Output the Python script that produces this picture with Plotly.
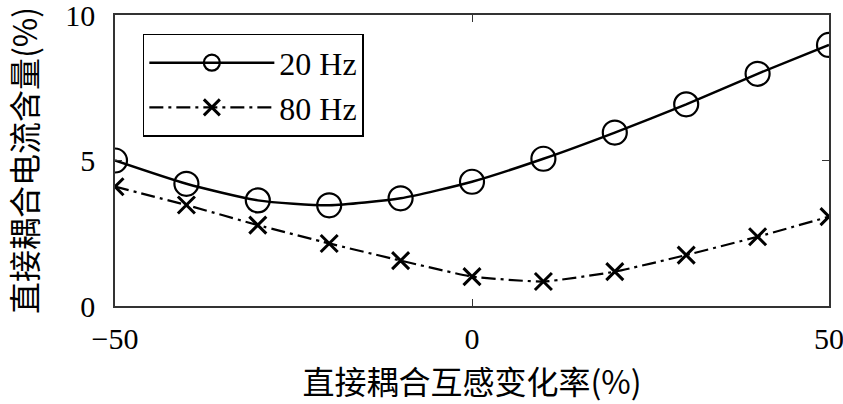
import plotly.graph_objects as go

x_vals = [-50, -40, -30, -20, -10, 0, 10, 20, 30, 40, 50]
y_20hz = [5.0, 4.2, 3.63, 3.46, 3.7, 4.27, 5.06, 5.96, 6.93, 7.98, 8.97]
y_80hz = [4.1, 3.47, 2.78, 2.15, 1.56, 1.01, 0.84, 1.18, 1.75, 2.38, 3.07]
series_names = ["20 Hz", "80 Hz"]
x_ticks = [-50, 0, 50]
y_ticks = [0, 5, 10]
x_title = "直接耦合互感变化率(%)"
y_title = "直接耦合电流含量(%)"

CJK = "Noto Sans CJK SC"
SERIF = "Liberation Serif"

fig = go.Figure()
fig.add_trace(go.Scatter(
    x=x_vals, y=y_20hz, name=series_names[0], mode="lines+markers",
    line=dict(color="black", width=2.5, shape="spline", smoothing=0.6),
    marker=dict(symbol="circle-open", size=24, color="black", line=dict(width=2.2, color="black")),
))
fig.add_trace(go.Scatter(
    x=x_vals, y=y_80hz, name=series_names[1], mode="lines+markers",
    line=dict(color="black", width=2.2, dash="14px,5px,3px,5px", shape="spline", smoothing=0.4),
    marker=dict(symbol="x-thin-open", size=17, color="black", line=dict(width=3, color="black")),
))

axis_common = dict(
    showgrid=False, zeroline=False, showline=True, linecolor="#333333", linewidth=1.5,
    mirror="ticks", ticks="inside", ticklen=7, tickwidth=1.2, tickcolor="#333333",
    tickfont=dict(family=SERIF, size=30, color="black"),
    ticklabeloverflow="allow", automargin=False,
)
fig.update_xaxes(range=[-50, 50], tickvals=x_ticks, ticklabelstandoff=5, **axis_common,
                 title=dict(text=x_title, font=dict(family=CJK, size=32, color="black"), standoff=18))
fig.update_yaxes(range=[0, 10], tickvals=y_ticks, ticklabelstandoff=12, **axis_common,
                 title=dict(text=y_title, font=dict(family=CJK, size=32, color="black"), standoff=22))

fig.update_layout(
    width=843, height=404, margin=dict(l=115, r=14, t=15, b=98),
    plot_bgcolor="white", paper_bgcolor="white",
    showlegend=True,
    legend=dict(x=0.039, y=0.935, xanchor="left", yanchor="top",
                bordercolor="black", borderwidth=1.5, bgcolor="white",
                font=dict(family=SERIF, size=32, color="black"),
                itemwidth=125, tracegroupgap=0),
)
fig.write_html("out.html")
